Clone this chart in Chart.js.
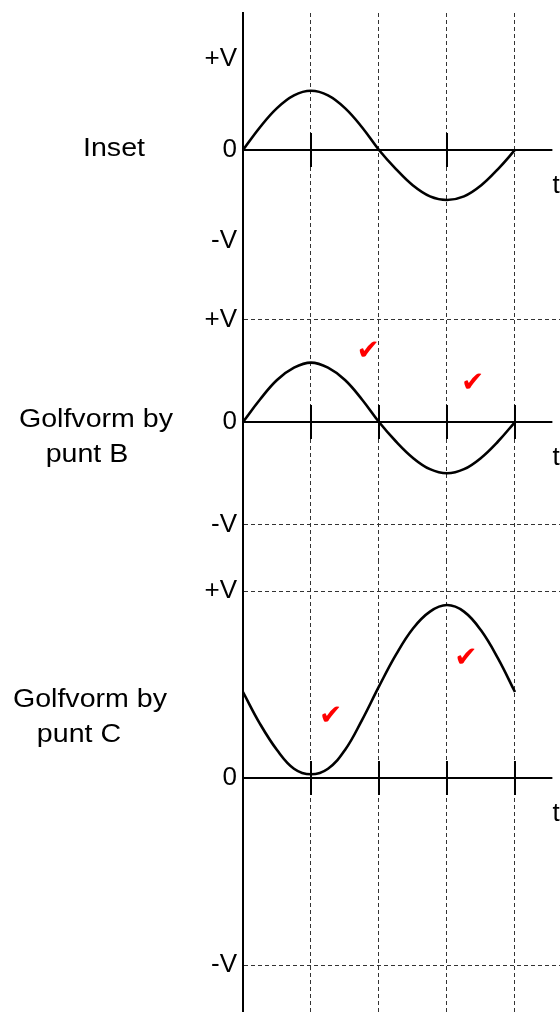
<!DOCTYPE html>
<html>
<head>
<meta charset="utf-8">
<script src="https://cdn.jsdelivr.net/npm/chart.js@4.4.0/dist/chart.umd.min.js"></script>
<style>
  html, body { margin: 0; padding: 0; background: #fff; }
  #wrap { position: relative; width: 560px; height: 1012px; overflow: hidden; }
  canvas { position: absolute; left: 0; }
</style>
</head>
<body>
<div id="wrap">
  <canvas id="panelA" width="560" height="285" style="top:0px"></canvas>
  <canvas id="panelB" width="560" height="275" style="top:285px"></canvas>
  <canvas id="panelC" width="560" height="452" style="top:560px"></canvas>
</div>
<script>
// time in quarter periods
const tValues = [0, 0.25, 0.5, 0.75, 1, 1.25, 1.5, 1.75, 2, 2.25, 2.5, 2.75, 3, 3.25, 3.5, 3.75, 4];

// voltage as fraction of V
const insetV = [0, 0.25, 0.46, 0.60, 0.65, 0.60, 0.46, 0.25, 0, -0.21, -0.39, -0.51, -0.55, -0.51, -0.39, -0.21, 0];
const puntB  = [0, 0.22, 0.41, 0.53, 0.58, 0.53, 0.41, 0.22, 0, -0.19, -0.35, -0.46, -0.50, -0.46, -0.35, -0.19, 0];
const puntC  = [0.46, 0.29, 0.15, 0.05, 0.02, 0.05, 0.15, 0.31, 0.49, 0.66, 0.80, 0.89, 0.925, 0.89, 0.79, 0.64, 0.46];

const yTickValues = [-1, 0, 1];
const yTickLabels = ['-V', '0', '+V'];
const gridTimes = [1, 2, 3, 4];
const tickMarksA = [1, 3];
const tickMarksBC = [1, 2, 3, 4];
const checksB = [{ x: 1.84, y: 0.69 }, { x: 3.38, y: 0.37 }];
const checksC = [{ x: 1.29, y: 0.33 }, { x: 3.28, y: 0.64 }];

const FONT = '"Liberation Sans", Arial, sans-serif';

const waveDecor = {
  id: 'waveDecor',
  beforeDatasetsDraw(chart, args, opts) {
    const { ctx, scales: { x, y } } = chart;
    const y0 = y.getPixelForValue(0);
    ctx.save();
    ctx.strokeStyle = '#000';
    ctx.lineWidth = 2;
    ctx.beginPath();
    ctx.moveTo(x.getPixelForValue(0), y0);
    ctx.lineTo(x.getPixelForValue(opts.axisEnd), y0);
    opts.ticks.forEach((t) => {
      const px = x.getPixelForValue(t);
      ctx.moveTo(px, y0 - 17);
      ctx.lineTo(px, y0 + 17);
    });
    ctx.stroke();
    ctx.restore();
  },
  afterDatasetsDraw(chart, args, opts) {
    const { ctx, scales: { x, y } } = chart;
    const y0 = y.getPixelForValue(0);
    ctx.save();
    ctx.fillStyle = '#000';
    ctx.font = '26px ' + FONT;
    ctx.textAlign = 'left';
    ctx.textBaseline = 'middle';
    ctx.fillText('t', x.getPixelForValue(opts.axisEnd), y0 + 36);

    ctx.textAlign = 'center';
    ctx.textBaseline = 'alphabetic';
    opts.title.forEach((l) => {
      ctx.save();
      ctx.translate(l.cx, l.base);
      ctx.scale(1.1, 1);
      ctx.fillText(l.text, 0, 0);
      ctx.restore();
    });

    ctx.fillStyle = '#ff0000';
    ctx.font = '28px "DejaVu Sans", sans-serif';
    ctx.textBaseline = 'middle';
    (opts.checks || []).forEach((c) => {
      ctx.fillText('\u2714', x.getPixelForValue(c.x), y.getPixelForValue(c.y));
    });
    ctx.restore();
  }
};

function makeChart(id, cfg) {
  const points = tValues.map((t, i) => ({ x: t, y: cfg.values[i] }));
  return new Chart(document.getElementById(id), {
    type: 'line',
    data: {
      datasets: [{
        data: points,
        borderColor: '#000',
        borderWidth: 2.6,
        pointRadius: 0,
        fill: false,
        tension: 0.4
      }]
    },
    plugins: [waveDecor],
    options: {
      responsive: false,
      animation: false,
      devicePixelRatio: 1,
      layout: { padding: { top: cfg.padTop, left: 0, right: 0, bottom: 0 } },
      plugins: {
        legend: { display: false },
        tooltip: { enabled: false },
        waveDecor: { axisEnd: 4.55, ticks: cfg.ticks, title: cfg.title, checks: cfg.checks }
      },
      scales: {
        x: {
          type: 'linear',
          min: 0,
          max: 4.662,
          afterBuildTicks: (s) => { s.ticks = gridTimes.map((v) => ({ value: v })); },
          afterFit: (s) => { s.height = 0; s.paddingLeft = 0; s.paddingRight = 0; },
          ticks: { display: false },
          border: { display: false, dash: [4, 3] },
          grid: { drawTicks: false, color: '#333', lineWidth: 1 }
        },
        y: {
          type: 'linear',
          min: cfg.yMin,
          max: cfg.yMax,
          afterBuildTicks: (s) => { s.ticks = yTickValues.map((v) => ({ value: v })); },
          afterFit: (s) => { s.width = 243; s.paddingTop = 0; s.paddingBottom = 0; },
          ticks: {
            callback: (v) => yTickLabels[yTickValues.indexOf(v)],
            color: '#000',
            font: { family: FONT, size: 26 },
            padding: 6
          },
          border: { display: true, color: '#000', width: 2, dash: [4, 3] },
          grid: {
            drawTicks: false,
            lineWidth: 1,
            color: (c) => (cfg.hGuides && c.tick && c.tick.value !== 0) ? '#333' : 'rgba(0,0,0,0)'
          }
        }
      }
    }
  });
}

makeChart('panelA', {
  values: insetV, padTop: 13, yMin: -1.484, yMax: 1.505, hGuides: false,
  ticks: tickMarksA, checks: [],
  title: [{ text: 'Inset', cx: 114, base: 156 }]
});
makeChart('panelB', {
  values: puntB, padTop: 0, yMin: -1.346, yMax: 1.337, hGuides: true,
  ticks: tickMarksBC, checks: checksB,
  title: [{ text: 'Golfvorm by', cx: 96, base: 142 }, { text: 'punt B', cx: 87, base: 177 }]
});
makeChart('panelC', {
  values: puntC, padTop: 0, yMin: -1.251, yMax: 1.166, hGuides: true,
  ticks: tickMarksBC, checks: checksC,
  title: [{ text: 'Golfvorm by', cx: 90, base: 147 }, { text: 'punt C', cx: 79, base: 182 }]
});
</script>
</body>
</html>
